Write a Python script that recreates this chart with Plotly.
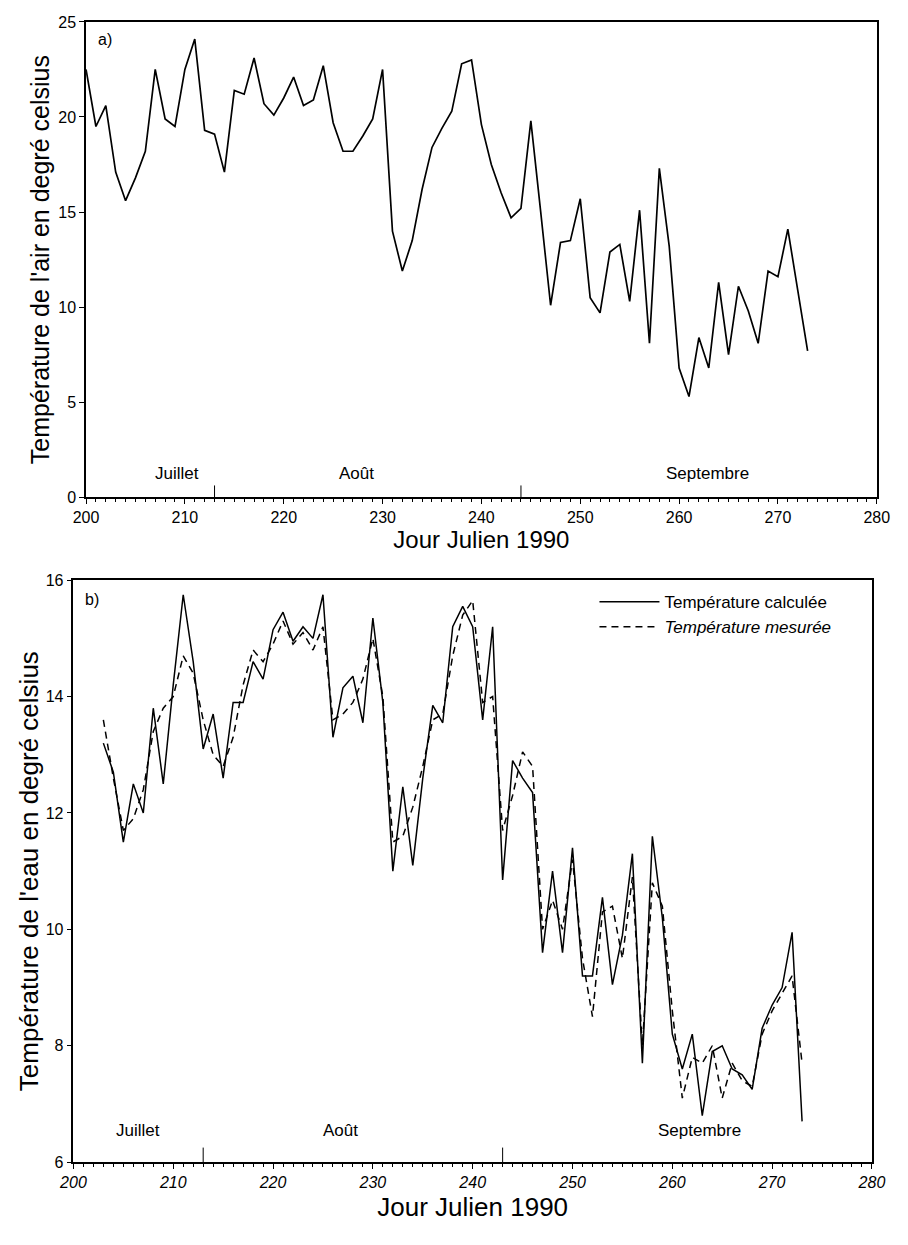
import plotly.graph_objects as go

# ---------------- data ----------------
days_air = list(range(200, 274))
air_temp = [22.5, 19.5, 20.6, 17.1, 15.6, 16.8, 18.2, 22.5, 19.9, 19.5,
            22.5, 24.1, 19.3, 19.1, 17.1, 21.4, 21.2, 23.1, 20.7, 20.1,
            21.0, 22.1, 20.6, 20.9, 22.7, 19.7, 18.2, 18.2, 19.0, 19.9,
            22.5, 14.0, 11.9, 13.5, 16.2, 18.4, 19.4, 20.3, 22.8, 23.0,
            19.6, 17.5, 16.0, 14.7, 15.2, 19.8, 15.0, 10.1, 13.4, 13.5,
            15.7, 10.5, 9.7, 12.9, 13.3, 10.3, 15.1, 8.1, 17.3, 13.2,
            6.8, 5.3, 8.4, 6.8, 11.3, 7.5, 11.1, 9.8, 8.1, 11.9,
            11.6, 14.1, 10.9, 7.7]

days_water = list(range(203, 274))
water_calc = [13.2, 12.7, 11.5, 12.5, 12.0, 13.8, 12.5, 14.2, 15.75, 14.6,
              13.1, 13.7, 12.6, 13.9, 13.9, 14.6, 14.3, 15.15, 15.45, 14.95,
              15.2, 15.0, 15.75, 13.3, 14.15, 14.35, 13.55, 15.35, 13.9, 11.0,
              12.45, 11.1, 12.6, 13.85, 13.55, 15.2, 15.55, 15.2, 13.6, 15.2,
              10.85, 12.9, 12.6, 12.35, 9.6, 11.0, 9.6, 11.4, 9.2, 9.2,
              10.55, 9.05, 9.9, 11.3, 7.7, 11.6, 10.2, 8.2, 7.6, 8.2,
              6.8, 7.9, 8.0, 7.6, 7.5, 7.25, 8.3, 8.7, 9.0, 9.95,
              6.7]
water_meas = [13.6, 12.6, 11.7, 11.9, 12.4, 13.4, 13.8, 14.0, 14.7, 14.4,
              13.6, 13.0, 12.8, 13.3, 14.2, 14.8, 14.6, 14.9, 15.3, 14.9,
              15.1, 14.8, 15.2, 13.6, 13.7, 13.9, 14.3, 15.0, 14.0, 11.5,
              11.6, 12.1, 12.8, 13.6, 13.7, 14.7, 15.4, 15.65, 13.9, 14.0,
              11.7, 12.3, 13.05, 12.8, 10.0, 10.5, 10.0, 11.2, 9.5, 8.5,
              10.3, 10.4, 9.5, 10.9, 8.0, 10.8, 10.4, 8.6, 7.1, 7.8,
              7.7, 8.0, 7.1, 7.7, 7.4, 7.3, 8.2, 8.6, 8.9, 9.2,
              7.7]

x_ticks = list(range(200, 281, 10))
months = ["Juillet", "Août", "Septembre"]
month_pos_top = [209.2, 227.4, 262.9]
month_pos_bot = [206.5, 226.8, 262.7]
month_starts_top = [213, 244]
month_starts_bot = [213, 243]

FONT = "Liberation Sans, Arial, sans-serif"

fig = go.Figure()
fig.add_trace(go.Scatter(x=days_air, y=air_temp, mode="lines",
                         line=dict(color="black", width=1.7),
                         xaxis="x", yaxis="y", showlegend=False))
fig.add_trace(go.Scatter(x=days_water, y=water_calc, mode="lines",
                         name="Température calculée",
                         line=dict(color="black", width=1.5),
                         xaxis="x2", yaxis="y2"))
fig.add_trace(go.Scatter(x=days_water, y=water_meas, mode="lines",
                         name="<i>Température mesurée</i>",
                         line=dict(color="black", width=1.5, dash="7px,5px"),
                         xaxis="x2", yaxis="y2"))

W, H = 908, 1245
def fx(px):
    return px / W
def fy(py):
    return 1 - py / H

def axis_common(fs, style="normal"):
    return dict(showline=True, linecolor="black", linewidth=1.5, mirror=True,
                ticks="outside", tickcolor="black", ticklen=5, tickwidth=1,
                showgrid=False, zeroline=False,
                tickfont=dict(family=FONT, size=fs, color="black", style=style))

fig.update_layout(
    width=W, height=H,
    margin=dict(l=0, r=0, t=0, b=0),
    paper_bgcolor="white", plot_bgcolor="white",
    xaxis=dict(domain=[fx(66), fx(881)], range=[200, 280], anchor="y",
               tickvals=x_ticks,
               minor=dict(dtick=1, ticks="outside", ticklen=3, tickcolor="black"),
               title=dict(text="Jour Julien 1990", standoff=3,
                          font=dict(family=FONT, size=24, color="black")),
               **axis_common(16)),
    yaxis=dict(domain=[fy(488), fy(6)], range=[0, 25], anchor="x", dtick=5,
               title=dict(text="Température de l'air en degré celsius", standoff=2,
                          font=dict(family=FONT, size=25, color="black")),
               **axis_common(16)),
    xaxis2=dict(domain=[fx(53), fx(876)], range=[200, 280], anchor="y2",
                tickvals=x_ticks,
                minor=dict(dtick=1, ticks="outside", ticklen=3, tickcolor="black"),
                title=dict(text="Jour Julien 1990", standoff=8,
                           font=dict(family=FONT, size=26, color="black")),
                **axis_common(16, "italic")),
    yaxis2=dict(domain=[fy(1162), fy(572)], range=[6, 16], anchor="x2", dtick=2,
                title=dict(text="Température de l'eau en degré celsius", standoff=0,
                           font=dict(family=FONT, size=26, color="black")),
                **axis_common(16)),
    legend=dict(x=fx(590), y=fy(576), xanchor="left", yanchor="top",
                bgcolor="rgba(0,0,0,0)", itemwidth=60,
                font=dict(family=FONT, size=17, color="black"),
                tracegroupgap=0),
)

annotations = [
    dict(text="a)", x=0.012, y=0.985, xref="x domain", yref="y domain",
         showarrow=False, xanchor="left", yanchor="top",
         font=dict(family=FONT, size=16, color="black")),
    dict(text="b)", x=0.012, y=0.985, xref="x2 domain", yref="y2 domain",
         showarrow=False, xanchor="left", yanchor="top",
         font=dict(family=FONT, size=16, color="black")),
]
for name, pos in zip(months, month_pos_top):
    annotations.append(dict(text=name, x=pos, y=0.025, xref="x", yref="y domain",
                            showarrow=False, yanchor="bottom",
                            font=dict(family=FONT, size=17, color="black")))
for name, pos in zip(months, month_pos_bot):
    annotations.append(dict(text=name, x=pos, y=0.035, xref="x2", yref="y2 domain",
                            showarrow=False, yanchor="bottom",
                            font=dict(family=FONT, size=17, color="black")))
fig.update_layout(annotations=annotations)

shapes = []
for d in month_starts_top:
    shapes.append(dict(type="line", x0=d, x1=d, y0=0, y1=0.025, xref="x", yref="y domain",
                       line=dict(color="black", width=1)))
for d in month_starts_bot:
    shapes.append(dict(type="line", x0=d, x1=d, y0=0, y1=0.025, xref="x2", yref="y2 domain",
                       line=dict(color="black", width=1)))
fig.update_layout(shapes=shapes)

fig.write_html("out.html")
